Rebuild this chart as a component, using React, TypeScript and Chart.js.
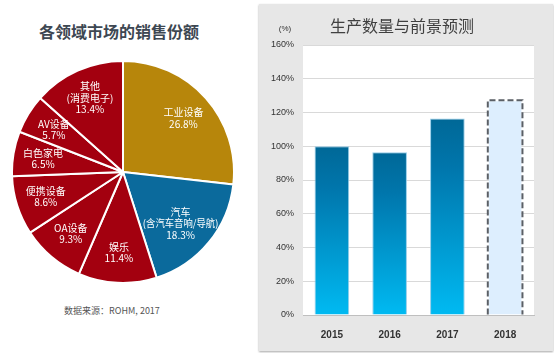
import React, { useEffect, useRef } from "react";
import { Chart, registerables } from "chart.js";

Chart.register(...registerables);

const pieTitle = "各领域市场的销售份额";
const pieSource = "数据来源：ROHM, 2017";
const pieLabels = [
  "工业设备",
  "汽车\n(含汽车音响/导航)",
  "娱乐",
  "OA设备",
  "便携设备",
  "白色家电",
  "AV设备",
  "其他\n(消费电子)",
];
const pieValues = [26.8, 18.3, 11.4, 9.3, 8.6, 6.5, 5.7, 13.4];
const pieColors = ["#B7860B", "#0B6A9C", "#A3000F", "#A3000F", "#A3000F", "#A3000F", "#A3000F", "#A3000F"];

const barTitle = "生产数量与前景预测";
const barUnit = "(%)";
const barYears = ["2015", "2016", "2017", "2018"];
const barValues = [100, 96.5, 116.5, 127.3];
const forecastIndex = 3;

const CJK = '"Noto Sans CJK SC", "Noto Sans", sans-serif';

const pieLabelPlugin = {
  id: "pieLabels",
  afterDatasetsDraw(chart: any) {
    const ctx = chart.ctx;
    const meta = chart.getDatasetMeta(0);
    ctx.save();
    ctx.fillStyle = "#ffffff";
    ctx.font = `10px ${CJK}`;
    ctx.textAlign = "center";
    ctx.textBaseline = "middle";
    meta.data.forEach((arc: any, i: number) => {
      const p = arc.getProps(["x", "y", "startAngle", "endAngle", "outerRadius"], true);
      const R = p.outerRadius;
      const mid = (p.startAngle + p.endAngle) / 2;
      const r = R * 0.73;
      let cx = p.x + Math.cos(mid) * r;
      const cy = p.y + Math.sin(mid) * r;
      const lines = pieLabels[i].split("\n").concat([pieValues[i].toFixed(1) + "%"]);
      const lh = 11.5;
      const y0 = cy - ((lines.length - 1) * lh) / 2;
      const maxW = R * 0.68;
      // keep every line inside the circle
      let shift = 0;
      lines.forEach((t, k) => {
        const w = Math.min(ctx.measureText(t).width, maxW);
        const ly = y0 + k * lh;
        const half = Math.sqrt(Math.max(R * R - (ly - p.y) * (ly - p.y), 0)) - 3;
        const over = Math.abs(cx - p.x) + w / 2 - half;
        if (over > shift) shift = over;
      });
      if (shift > 0) cx += cx > p.x ? -shift : shift;
      lines.forEach((t, k) => ctx.fillText(t, cx, y0 + k * lh, maxW));
    });
    ctx.restore();
  },
};

const plotBgPlugin = {
  id: "plotBg",
  beforeDraw(chart: any) {
    const { ctx, chartArea } = chart;
    if (!chartArea) return;
    ctx.save();
    ctx.fillStyle = "#ffffff";
    ctx.fillRect(chartArea.left, chartArea.top, chartArea.right - chartArea.left, chartArea.bottom - chartArea.top);
    ctx.restore();
  },
};

const dashedBarPlugin = {
  id: "dashedBar",
  afterDatasetsDraw(chart: any) {
    const ctx = chart.ctx;
    const meta = chart.getDatasetMeta(0);
    const bar = meta.data[forecastIndex];
    if (!bar) return;
    const p = bar.getProps(["x", "y", "base", "width"], true);
    ctx.save();
    ctx.strokeStyle = "#5a5f66";
    ctx.lineWidth = 2;
    ctx.setLineDash([6, 3]);
    const l = p.x - p.width / 2;
    const r = p.x + p.width / 2;
    ctx.beginPath();
    ctx.moveTo(l, p.base);
    ctx.lineTo(l, p.y);
    ctx.lineTo(r, p.y);
    ctx.lineTo(r, p.base);
    ctx.stroke();
    ctx.restore();
  },
};

function PieChart() {
  const ref = useRef<HTMLCanvasElement>(null);
  useEffect(() => {
    const chart = new Chart(ref.current!, {
      type: "pie",
      data: {
        labels: pieLabels,
        datasets: [
          {
            data: pieValues,
            backgroundColor: pieColors,
            borderColor: "#ffffff",
            borderWidth: 2,
          },
        ],
      },
      options: {
        animation: false,
        responsive: false,
        maintainAspectRatio: false,
        layout: { padding: 0 },
        plugins: { legend: { display: false }, tooltip: { enabled: false } },
      },
      plugins: [pieLabelPlugin],
    });
    return () => chart.destroy();
  }, []);
  return <canvas ref={ref} width={224} height={224} style={{ position: "absolute", left: 11, top: 60, width: 224, height: 224 }} />;
}

function BarChart() {
  const ref = useRef<HTMLCanvasElement>(null);
  useEffect(() => {
    const chart = new Chart(ref.current!, {
      type: "bar",
      data: {
        labels: barYears,
        datasets: [
          {
            data: barValues,
            backgroundColor: (c: any) => {
              const ch = c.chart;
              if (!ch.chartArea || c.dataIndex === undefined) return "#0080c0";
              if (c.dataIndex === forecastIndex) return "#DDEEFE";
              const ys = ch.scales.y;
              const top = ys.getPixelForValue(barValues[c.dataIndex]);
              const bottom = ys.getPixelForValue(0);
              const g = ch.ctx.createLinearGradient(0, top, 0, bottom);
              g.addColorStop(0, "#006897");
              g.addColorStop(0.25, "#0076AC");
              g.addColorStop(1, "#00BAF2");
              return g;
            },
            borderColor: (c: any) => (c.dataIndex === forecastIndex ? "rgba(0,0,0,0)" : "rgba(140,200,230,0.9)"),
            borderWidth: 1,
            borderSkipped: "bottom",
            categoryPercentage: 1,
            barPercentage: 0.6,
          },
        ],
      },
      options: {
        animation: false,
        responsive: false,
        maintainAspectRatio: false,
        layout: { padding: { top: 41, right: 19, left: 0, bottom: 0 } },
        plugins: { legend: { display: false }, tooltip: { enabled: false } },
        scales: {
          x: {
            grid: { display: false },
            border: { color: "#bfbfbf", width: 1 },
            ticks: {
              color: "#333333",
              font: { family: "Liberation Sans, Arial, sans-serif", size: 10, weight: "bold" },
              padding: 6,
            },
            afterFit: (s: any) => {
              s.height = 36;
            },
          },
          y: {
            min: 0,
            max: 160,
            ticks: {
              stepSize: 20,
              color: "#333333",
              font: { family: "Liberation Sans, Arial, sans-serif", size: 9 },
              padding: 9,
              callback: (v: any) => v + "%",
            },
            grid: { color: "#d9d9d9", drawTicks: false },
            border: { display: false },
            afterFit: (s: any) => {
              s.width = 44;
            },
          },
        },
      },
      plugins: [plotBgPlugin, dashedBarPlugin],
    });
    return () => chart.destroy();
  }, []);
  return <canvas ref={ref} width={294} height={347} style={{ position: "absolute", left: 0, top: 0, width: 294, height: 347 }} />;
}

export default function App() {
  return (
    <div style={{ position: "fixed", left: 0, top: 0, width: 554, height: 353, background: "#ffffff", overflow: "hidden" }}>
      <div
        style={{
          position: "absolute",
          left: 0,
          top: 20,
          width: 238,
          textAlign: "center",
          fontFamily: CJK,
          fontWeight: "bold",
          fontSize: 16,
          lineHeight: "22px",
          color: "#3d4752",
        }}
      >
        {pieTitle}
      </div>
      <PieChart />
      <div
        style={{
          position: "absolute",
          left: 0,
          top: 304,
          width: 224,
          textAlign: "center",
          fontFamily: CJK,
          fontSize: 9,
          lineHeight: "14px",
          color: "#555555",
        }}
      >
        {pieSource}
      </div>
      <div
        style={{
          position: "absolute",
          left: 259,
          top: 4,
          width: 294,
          height: 347,
          background: "#e7e7e7",
          boxShadow: "0px 1px 2px rgba(0,0,0,0.35)",
        }}
      >
        <BarChart />
        <div
          style={{
            position: "absolute",
            left: 43,
            top: 10,
            width: 200,
            textAlign: "center",
            whiteSpace: "nowrap",
            fontFamily: CJK,
            fontSize: 16,
            lineHeight: "22px",
            color: "#404040",
          }}
        >
          {barTitle}
        </div>
        <div
          style={{
            position: "absolute",
            left: 15,
            top: 19,
            width: 22,
            textAlign: "center",
            fontFamily: "Liberation Sans, Arial, sans-serif",
            fontSize: 8,
            lineHeight: "12px",
            color: "#333333",
          }}
        >
          {barUnit}
        </div>
      </div>
    </div>
  );
}
